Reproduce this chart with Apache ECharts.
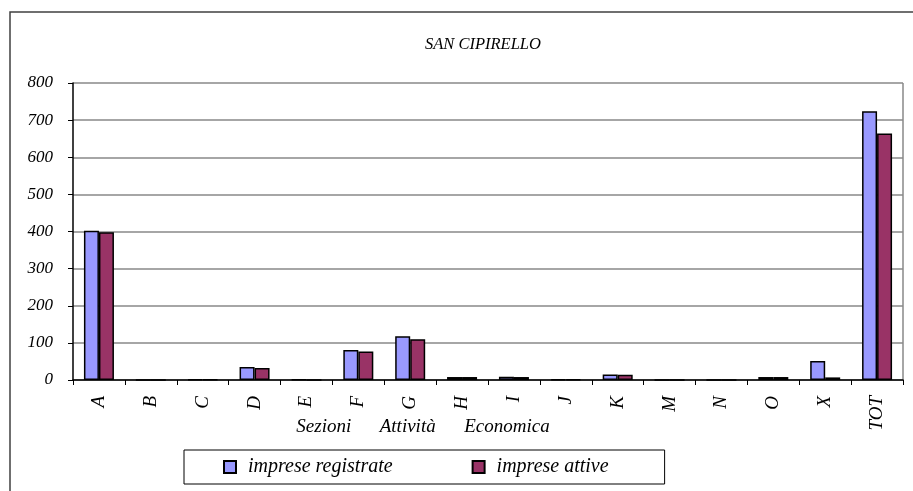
<!DOCTYPE html>
<html>
<head>
<meta charset="utf-8">
<script src="https://cdn.jsdelivr.net/npm/echarts@6/dist/echarts.min.js"></script>
<style>
html,body{margin:0;padding:0;background:#fff;}
#chart{width:913px;height:491px;}
</style>
</head>
<body>
<div id="chart"></div>
<script>
const categories = ['A','B','C','D','E','F','G','H','I','J','K','M','N','O','X','TOT'];
const impreseRegistrate = [402, 0, 2, 35, 1, 81, 118, 8, 9, 2, 15, 0, 0, 8, 51, 724];
const impreseAttive     = [398, 0, 1, 32, 0, 77, 110, 8, 8, 2, 14, 0, 0, 8, 7, 664];
const yTicks = [0, 100, 200, 300, 400, 500, 600, 700, 800];

const FONT = '"Liberation Serif", "Times New Roman", serif';
const chart = echarts.init(document.getElementById('chart'), null, {renderer: 'canvas'});
chart.setOption({
  backgroundColor: '#fff',
  animation: false,
  title: {
    text: 'SAN CIPIRELLO',
    left: 420,
    top: 31,
    textStyle: {fontFamily: FONT, fontStyle: 'italic', fontWeight: 'normal', fontSize: 16.5, color: '#000'}
  },
  graphic: [
    {type: 'rect', shape: {x: 10, y: 12, width: 920, height: 500}, style: {fill: 'none', stroke: '#404040', lineWidth: 1.5}, silent: true},
    {type: 'line', shape: {x1: 903, y1: 83, x2: 903, y2: 380}, style: {stroke: '#888', lineWidth: 1.5}, silent: true}
  ],
  legend: {
    left: 184,
    top: 450,
    padding: [7, 56, 7, 39],
    itemGap: 79,
    itemWidth: 12,
    itemHeight: 12,
    icon: 'rect',
    borderColor: '#000',
    borderWidth: 1,
    textStyle: {fontFamily: FONT, fontStyle: 'italic', fontSize: 20, color: '#000', padding: [0, 0, 0, 7]},
    data: ['imprese registrate', 'imprese attive']
  },
  grid: {left: 73, right: 10, top: 83, bottom: 111, containLabel: false},
  xAxis: {
    type: 'category',
    data: categories,
    name: 'Sezioni      Attività      Economica',
    nameLocation: 'middle',
    nameGap: 37,
    nameMoveOverlap: false,
    nameTextStyle: {fontFamily: FONT, fontStyle: 'italic', fontSize: 19, color: '#000', padding: [0, 130, 0, 0]},
    axisLine: {lineStyle: {color: '#000', width: 1.5}},
    axisTick: {show: true, alignWithLabel: false, length: 5, lineStyle: {color: '#000'}},
    axisLabel: {rotate: 90, margin: 16, fontFamily: FONT, fontStyle: 'italic', fontSize: 19, color: '#000'}
  },
  yAxis: {
    type: 'value',
    min: 0,
    max: 800,
    interval: 100,
    axisLine: {show: true, lineStyle: {color: '#000', width: 1.5}},
    axisTick: {show: true, length: 5, lineStyle: {color: '#000'}},
    axisLabel: {margin: 20, fontFamily: FONT, fontStyle: 'italic', fontSize: 17, color: '#000',
      formatter: v => yTicks.includes(v) ? String(v) : ''},
    splitLine: {show: true, lineStyle: {color: '#888', width: 1.5}}
  },
  series: [
    {name: 'imprese registrate', type: 'bar', data: impreseRegistrate, barWidth: 15, barGap: '0%',
      itemStyle: {color: '#9999FF', borderColor: '#000', borderWidth: 1.5}},
    {name: 'imprese attive', type: 'bar', data: impreseAttive, barWidth: 15,
      itemStyle: {color: '#993366', borderColor: '#000', borderWidth: 1.5}}
  ]
});
</script>
</body>
</html>
